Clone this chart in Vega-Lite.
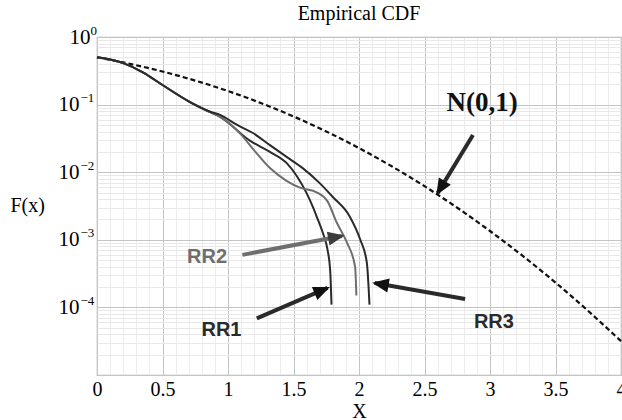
{
  "$schema": "https://vega.github.io/schema/vega-lite/v6.json",
  "width": 524,
  "height": 338,
  "autosize": "none",
  "padding": {"left": 97, "top": 37, "right": 1, "bottom": 45},
  "background": "white",
  "config": {"view": {"stroke": "#b5b5b5", "strokeWidth": 1.2}},
  "title": {"text": "Empirical CDF", "font": "Liberation Serif", "fontSize": 20, "fontWeight": "normal", "anchor": "middle", "frame": "group", "offset": -16, "baseline": "alphabetic", "color": "#000"},
  "datasets": {
    "normal": [
      {"x": 0, "y": 0.5}, {"x": 0.25, "y": 0.4013}, {"x": 0.5, "y": 0.3085}, {"x": 0.75, "y": 0.2266},
      {"x": 1, "y": 0.1587}, {"x": 1.25, "y": 0.1056}, {"x": 1.5, "y": 0.0668}, {"x": 1.75, "y": 0.0401},
      {"x": 2, "y": 0.02275}, {"x": 2.25, "y": 0.01222}, {"x": 2.5, "y": 0.00621}, {"x": 2.75, "y": 0.00298},
      {"x": 3, "y": 0.00135}, {"x": 3.25, "y": 0.000577}, {"x": 3.5, "y": 0.000233}, {"x": 3.75, "y": 0.0000884},
      {"x": 4, "y": 0.0000317}
    ],
    "rr": [
      {"s": "RR1", "x": 0, "y": 0.5}, {"s": "RR1", "x": 0.2, "y": 0.41}, {"s": "RR1", "x": 0.35, "y": 0.30},
      {"s": "RR1", "x": 0.5, "y": 0.195}, {"s": "RR1", "x": 0.71, "y": 0.109}, {"s": "RR1", "x": 0.86, "y": 0.078},
      {"s": "RR1", "x": 0.94, "y": 0.066}, {"s": "RR1", "x": 1.17, "y": 0.029}, {"s": "RR1", "x": 1.32, "y": 0.020},
      {"s": "RR1", "x": 1.45, "y": 0.0135}, {"s": "RR1", "x": 1.53, "y": 0.0085}, {"s": "RR1", "x": 1.60, "y": 0.0049},
      {"s": "RR1", "x": 1.65, "y": 0.0030}, {"s": "RR1", "x": 1.69, "y": 0.0019}, {"s": "RR1", "x": 1.73, "y": 0.00117},
      {"s": "RR1", "x": 1.76, "y": 0.00071}, {"s": "RR1", "x": 1.78, "y": 0.000355}, {"s": "RR1", "x": 1.79, "y": 0.00011},
      {"s": "RR2", "x": 0, "y": 0.5}, {"s": "RR2", "x": 0.2, "y": 0.41}, {"s": "RR2", "x": 0.35, "y": 0.30},
      {"s": "RR2", "x": 0.5, "y": 0.195}, {"s": "RR2", "x": 0.71, "y": 0.109}, {"s": "RR2", "x": 0.86, "y": 0.078},
      {"s": "RR2", "x": 0.94, "y": 0.066}, {"s": "RR2", "x": 1.1, "y": 0.036}, {"s": "RR2", "x": 1.2, "y": 0.021},
      {"s": "RR2", "x": 1.32, "y": 0.0115}, {"s": "RR2", "x": 1.45, "y": 0.0074}, {"s": "RR2", "x": 1.55, "y": 0.0059},
      {"s": "RR2", "x": 1.68, "y": 0.0050}, {"s": "RR2", "x": 1.76, "y": 0.0037}, {"s": "RR2", "x": 1.83, "y": 0.0018},
      {"s": "RR2", "x": 1.91, "y": 0.00089}, {"s": "RR2", "x": 1.97, "y": 0.0004}, {"s": "RR2", "x": 1.98, "y": 0.00015},
      {"s": "RR3", "x": 0, "y": 0.5}, {"s": "RR3", "x": 0.2, "y": 0.41}, {"s": "RR3", "x": 0.35, "y": 0.30},
      {"s": "RR3", "x": 0.5, "y": 0.195}, {"s": "RR3", "x": 0.71, "y": 0.109}, {"s": "RR3", "x": 0.86, "y": 0.079},
      {"s": "RR3", "x": 0.94, "y": 0.0703}, {"s": "RR3", "x": 1.07, "y": 0.050}, {"s": "RR3", "x": 1.19, "y": 0.038},
      {"s": "RR3", "x": 1.32, "y": 0.0251}, {"s": "RR3", "x": 1.45, "y": 0.0167}, {"s": "RR3", "x": 1.57, "y": 0.0115},
      {"s": "RR3", "x": 1.70, "y": 0.0069}, {"s": "RR3", "x": 1.80, "y": 0.0043}, {"s": "RR3", "x": 1.93, "y": 0.0022},
      {"s": "RR3", "x": 2.01, "y": 0.001}, {"s": "RR3", "x": 2.06, "y": 0.000457}, {"s": "RR3", "x": 2.08, "y": 0.000110}
    ],
    "arrows": [
      {"a": "N", "x": 2.60, "y": 0.0049, "x2": 2.87, "y2": 0.0355},
      {"a": "RR2", "x": 1.87, "y": 0.00114, "x2": 1.11, "y2": 0.000599},
      {"a": "RR1", "x": 1.76, "y": 0.000194, "x2": 1.22, "y2": 0.000069},
      {"a": "RR3", "x": 2.12, "y": 0.000229, "x2": 2.81, "y2": 0.000133}
    ],
    "labels": [
      {"t": "N(0,1)", "x": 2.94, "y": 0.105},
      {"t": "RR1", "x": 0.95, "y": 0.000047},
      {"t": "RR2", "x": 0.84, "y": 0.00056},
      {"t": "RR3", "x": 3.03, "y": 0.00006}
    ],
    "exps": [
      {"e": "0", "y": 1},
      {"e": "−1", "y": 0.1},
      {"e": "−2", "y": 0.01},
      {"e": "−3", "y": 0.001},
      {"e": "−4", "y": 0.0001}
    ]
  },
  "resolve": {"scale": {"y": "independent"}, "axis": {"y": "independent"}},
  "layer": [
    {
      "encoding": {
        "x": {
          "field": "x", "type": "quantitative",
          "scale": {"domain": [0, 4], "nice": false, "zero": false},
          "axis": {
            "title": "X", "titleFont": "Liberation Serif", "titleFontSize": 20, "titleFontWeight": "normal", "titleColor": "#000", "titlePadding": 2,
            "values": [0,0.1,0.2,0.3,0.4,0.5,0.6,0.7,0.8,0.9,1,1.1,1.2,1.3,1.4,1.5,1.6,1.7,1.8,1.9,2,2.1,2.2,2.3,2.4,2.5,2.6,2.7,2.8,2.9,3,3.1,3.2,3.3,3.4,3.5,3.6,3.7,3.8,3.9,4],
            "labelExpr": "indexof([0,0.5,1,1.5,2,2.5,3,3.5,4], datum.value) >= 0 ? datum.value + '' : ''",
            "labelFont": "Liberation Serif", "labelFontSize": 20, "labelColor": "#000", "labelPadding": 4,
            "labelOverlap": false, "labelFlush": false, "labelBound": false,
            "ticks": false, "domain": false,
            "grid": true,
            "gridColor": {"condition": {"test": "indexof([0,0.5,1,1.5,2,2.5,3,3.5,4], datum.value) >= 0", "value": "#c4c4c4"}, "value": "#ececec"},
            "gridWidth": 1
          }
        },
        "y": {
          "field": "y", "type": "quantitative",
          "scale": {"type": "log", "domain": [0.00001, 1], "nice": false},
          "axis": {
            "orient": "left",
            "title": "F(x)", "titleFont": "Liberation Serif", "titleFontSize": 20, "titleFontWeight": "normal", "titleColor": "#000",
            "titleAngle": 0, "titleAlign": "left", "titleBaseline": "middle", "titleX": -87, "titleY": 168,
            "values": [0.00001,0.00002,0.00003,0.00004,0.00005,0.00006,0.00007,0.00008,0.00009,0.0001,0.0002,0.0003,0.0004,0.0005,0.0006,0.0007,0.0008,0.0009,0.001,0.002,0.003,0.004,0.005,0.006,0.007,0.008,0.009,0.01,0.02,0.03,0.04,0.05,0.06,0.07,0.08,0.09,0.1,0.2,0.3,0.4,0.5,0.6,0.7,0.8,0.9,1],
            "labelExpr": "indexof([1,0.1,0.01,0.001,0.0001], datum.value) >= 0 ? '10' : ''",
            "labelFont": "Liberation Serif", "labelFontSize": 21, "labelColor": "#000",
            "labelPadding": {"condition": {"test": "datum.value == 1", "value": 7}, "value": 18},
            "labelOverlap": false, "labelBound": false, "labelFlush": false,
            "ticks": false, "domain": false,
            "grid": true,
            "gridColor": {"condition": {"test": "indexof([1,0.1,0.01,0.001,0.0001,0.00001], datum.value) >= 0", "value": "#c4c4c4"}, "value": "#e8e8e8"},
            "gridWidth": 1
          }
        }
      },
      "layer": [
        {
          "data": {"name": "normal"},
          "mark": {"type": "line", "color": "#111", "strokeWidth": 2.2, "strokeDash": [5, 3], "interpolate": "monotone"}
        },
        {
          "data": {"name": "rr"},
          "mark": {"type": "line", "strokeWidth": 2, "interpolate": "monotone"},
          "encoding": {
            "detail": {"field": "s"},
            "color": {"field": "s", "type": "nominal", "scale": {"domain": ["RR1", "RR2", "RR3"], "range": ["#2a2a2a", "#6e6e6e", "#2a2a2a"]}, "legend": null},
            "order": {"field": "x", "type": "quantitative"}
          }
        },
        {
          "data": {"name": "arrows"},
          "mark": {"type": "rule", "strokeWidth": 4, "strokeCap": "butt"},
          "encoding": {
            "x2": {"field": "x2"},
            "y2": {"field": "y2"},
            "color": {"field": "a", "type": "nominal", "scale": {"domain": ["N", "RR1", "RR2", "RR3"], "range": ["#111", "#111", "#3c3c3c", "#111"]}, "legend": null}
          }
        },
        {
          "data": {"name": "arrows"},
          "transform": [{"filter": "datum.a == 'N'"}],
          "mark": {"type": "point", "filled": true, "shape": "M0,-0.2L-0.55,1.1L0.55,1.1Z", "size": 650, "angle": 211, "color": "#111", "opacity": 1}
        },
        {
          "data": {"name": "arrows"},
          "transform": [{"filter": "datum.a == 'RR2'"}],
          "mark": {"type": "point", "filled": true, "shape": "M0,-0.2L-0.55,1.1L0.55,1.1Z", "size": 650, "angle": 79, "color": "#3c3c3c", "opacity": 1}
        },
        {
          "data": {"name": "arrows"},
          "transform": [{"filter": "datum.a == 'RR1'"}],
          "mark": {"type": "point", "filled": true, "shape": "M0,-0.2L-0.55,1.1L0.55,1.1Z", "size": 650, "angle": 67, "color": "#111", "opacity": 1}
        },
        {
          "data": {"name": "arrows"},
          "transform": [{"filter": "datum.a == 'RR3'"}],
          "mark": {"type": "point", "filled": true, "shape": "M0,-0.2L-0.55,1.1L0.55,1.1Z", "size": 650, "angle": 280, "color": "#111", "opacity": 1}
        },
        {
          "data": {"name": "labels"},
          "transform": [{"filter": "datum.t == 'N(0,1)'"}],
          "mark": {"type": "text", "font": "Liberation Serif", "fontSize": 27, "fontWeight": "bold", "color": "#111", "align": "center", "baseline": "middle"},
          "encoding": {"text": {"field": "t"}}
        },
        {
          "data": {"name": "labels"},
          "transform": [{"filter": "datum.t != 'N(0,1)'"}],
          "mark": {"type": "text", "font": "Liberation Sans", "fontSize": 20, "fontWeight": "bold", "align": "center", "baseline": "middle"},
          "encoding": {
            "text": {"field": "t"},
            "color": {"field": "t", "type": "nominal", "scale": {"domain": ["RR1", "RR2", "RR3"], "range": ["#222", "#707070", "#222"]}, "legend": null}
          }
        }
      ]
    },
    {
      "data": {"name": "exps"},
      "mark": {"type": "point", "opacity": 0},
      "encoding": {
        "y": {
          "field": "y", "type": "quantitative",
          "scale": {"type": "log", "domain": [0.00001, 1], "nice": false},
          "axis": {
            "orient": "left", "title": null,
            "values": [1, 0.1, 0.01, 0.001, 0.0001],
            "labelExpr": "datum.value == 1 ? '0' : datum.value == 0.1 ? '−1' : datum.value == 0.01 ? '−2' : datum.value == 0.001 ? '−3' : '−4'",
            "labelFont": "Liberation Serif", "labelFontSize": 13, "labelColor": "#000",
            "labelAlign": "left", "labelBaseline": "middle", "labelOffset": -7,
            "labelPadding": {"condition": {"test": "datum.value == 1", "value": 7}, "value": 17},
            "labelOverlap": false, "labelBound": false, "labelFlush": false,
            "ticks": false, "domain": false, "grid": false
          }
        }
      }
    }
  ]
}
